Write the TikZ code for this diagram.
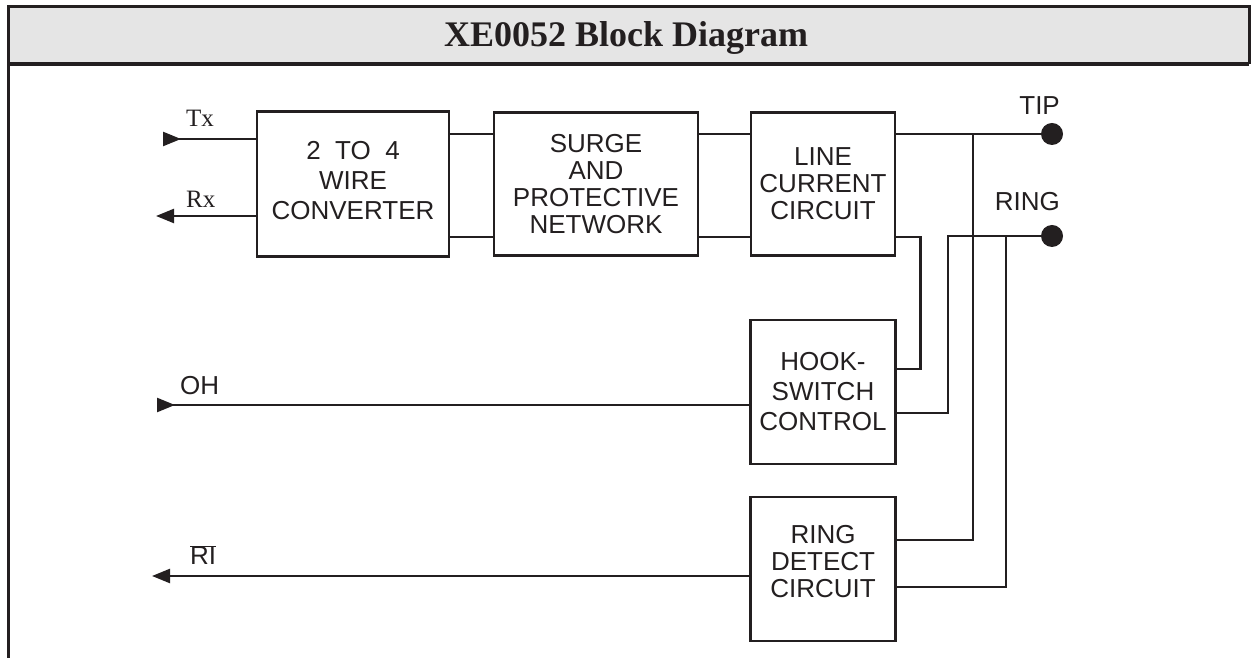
\documentclass[tikz,border=0pt]{standalone}
\usepackage{fontspec}
\setmainfont{Liberation Serif}
\setsansfont{Liberation Sans}
\usetikzlibrary{positioning,arrows.meta}
\definecolor{ink}{RGB}{35,31,32}
\definecolor{band}{RGB}{229,229,229}

\begin{document}
\begin{tikzpicture}[x=1pt,y=1pt,on grid,
	block/.style={draw=ink,line width=2.7pt,text=ink,align=center,inner sep=0pt,
		font=\sffamily\fontsize{26}{27}\selectfont},
	wire/.style={draw=ink,line width=2.4pt},
	terminal/.style={circle,fill=ink,minimum size=22pt,inner sep=0pt},
	pinlabel/.style={text=ink,inner sep=0pt,font=\sffamily\fontsize{26}{28}\selectfont},
	siglabel/.style={text=ink,inner sep=0pt,font=\fontsize{25}{27}\selectfont},
	tip in/.style={{Triangle[reversed,length=18pt,width=14pt]}-},
	tip out/.style={-{Triangle[length=18pt,width=14pt]}}]
	\useasboundingbox (0,0) rectangle (1252,658);
	% title band and frame
	\fill[band] (8,651) rectangle (1249,594);
	\draw[ink,line width=3pt] (8,651) -- (1249,651);
	\draw[ink,line width=4pt] (8,594) -- (1249,594);
	\draw[ink,line width=3pt] (8,652.5) -- (8,0);
	\draw[ink,line width=3pt] (1249,652.5) -- (1249,594);
	\node[text=ink,anchor=base,font=\bfseries\fontsize{36}{40}\selectfont] (title) at (626,611) {XE0052 Block Diagram};
	% blocks
	\node[block,minimum width=192pt,minimum height=145pt,font=\sffamily\fontsize{26}{30}\selectfont] (conv) at (353,474) {2\ \ TO\ \ 4\\WIRE\\CONVERTER\\[-22pt]};
	\node[block,minimum width=204pt,minimum height=143pt] (surge) [right=243pt of conv] {SURGE\\AND\\PROTECTIVE\\NETWORK};
	\node[block,minimum width=144pt,minimum height=143pt] (line) [right=227pt of surge] {LINE\\CURRENT\\CIRCUIT};
	\node[block,minimum width=145pt,minimum height=144pt,font=\sffamily\fontsize{26}{30}\selectfont] (hook) [below=208pt of line] {HOOK-\\SWITCH\\CONTROL};
	\node[block,minimum width=145pt,minimum height=144pt] (rd) [below=177pt of hook] {RING\\DETECT\\CIRCUIT\\[-11pt]};
	% line terminals
	\node[terminal] (tip) at (1052,524) {};
	\node[terminal] (ring) at (1052,422) {};
	\node[pinlabel,anchor=base east] (tiplbl) at (1060,543) {TIP};
	\node[pinlabel,anchor=base east] (ringlbl) at (1060,447) {RING};
	% signal ends
	\coordinate (txin) at (163,519);
	\coordinate (rxout) at (156,442);
	\coordinate (ohin) at (157,253);
	\coordinate (riout) at (152,82);
	\node[siglabel,anchor=base west] (txlbl) at (186,531) {Tx};
	\node[siglabel,anchor=base west] (rxlbl) at (186,450) {Rx};
	\node[pinlabel,anchor=base west] (ohlbl) at (180,263) {OH};
	\node[pinlabel,anchor=base west] (rilbl) at (190,93) {$\overline{\mbox{RI}}$};
	\coordinate (tj) at (973,524);
	\coordinate (rj) at (1006,422);
	% connections
	\draw[wire,tip in] (txin) -- (txin -| conv.west);
	\draw[wire,tip out] (rxout -| conv.west) -- (rxout);
	\draw[wire,tip in] (ohin) -- (ohin -| hook.west);
	\draw[wire,tip out] (riout -| rd.west) -- (riout);
	\draw[wire] ([yshift=50pt]conv.east) -- ([yshift=50pt]surge.west);
	\draw[wire] ([yshift=-53pt]conv.east) -- ([yshift=-53pt]surge.west);
	\draw[wire] ([yshift=50pt]surge.east) -- ([yshift=50pt]line.west);
	\draw[wire] ([yshift=-53pt]surge.east) -- ([yshift=-53pt]line.west);
	\draw[wire] ([yshift=50pt]line.east) -- (tip);
	\draw[wire] ([yshift=-53pt]line.east) -- ++(24,0) |- ([yshift=23pt]hook.east);
	\draw[wire] ([yshift=-21pt]hook.east) -- ++(51,0) |- (ring);
	\draw[wire] (tj) |- ([yshift=29pt]rd.east);
	\draw[wire] (rj) |- ([yshift=-18pt]rd.east);
\end{tikzpicture}
\end{document}
